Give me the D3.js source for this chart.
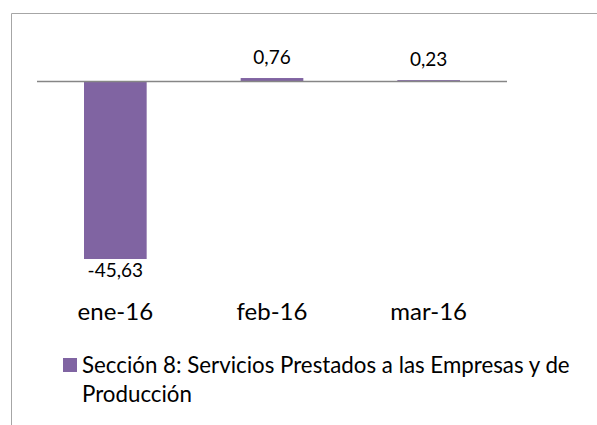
<!DOCTYPE html>
<html>
<head>
<meta charset="utf-8">
<script src="https://cdn.jsdelivr.net/npm/d3@7"></script>
<style>
  body { margin: 0; background: #fff; }
  text { font-family: Lato, "Open Sans", sans-serif; fill: #000; }
</style>
</head>
<body>
<svg id="chart" width="597" height="425"></svg>
<script>
const categories = ['ene-16', 'feb-16', 'mar-16'];
const values = [-45.63, 0.76, 0.23];
const labels = ['-45,63', '0,76', '0,23'];
const seriesName = 'Sección 8: Servicios Prestados a las Empresas y de';
const seriesName2 = 'Producción';

const svg = d3.select('#chart');
const color = '#8064a2';

// chart frame (cropped on the right and bottom)
svg.append('path')
    .attr('d', 'M11.5,425 L11.5,13.5 L597,13.5')
    .attr('fill', 'none')
    .attr('stroke', '#a6a6a6')
    .attr('stroke-width', 1);

const x = d3.scaleBand()
    .domain(categories)
    .range([37, 507])
    .paddingInner(0.6)
    .paddingOuter(0.3);

const y = d3.scaleLinear()
    .domain([-45.63, 0])
    .range([259, 81]);

svg.selectAll('.bar')
    .data(values)
    .enter()
    .append('rect')
    .attr('class', 'bar')
    .attr('x', (d, i) => x(categories[i]))
    .attr('width', x.bandwidth())
    .attr('y', d => y(Math.max(0, d)))
    .attr('height', d => Math.abs(y(d) - y(0)))
    .attr('fill', color);

// zero line
svg.append('line')
    .attr('x1', 37).attr('x2', 507)
    .attr('y1', y(0) + 0.5).attr('y2', y(0) + 0.5)
    .attr('stroke', '#868686')
    .attr('stroke-width', 1.5);

// value labels
svg.selectAll('.val')
    .data(values)
    .enter()
    .append('text')
    .attr('class', 'val')
    .attr('x', (d, i) => x(categories[i]) + x.bandwidth() / 2)
    .attr('y', d => d < 0 ? y(d) + 18 : y(d) - 14)
    .attr('text-anchor', 'middle')
    .style('font-size', '19px')
    .text((d, i) => labels[i]);

// category labels
svg.selectAll('.cat')
    .data(categories)
    .enter()
    .append('text')
    .attr('class', 'cat')
    .attr('x', d => x(d) + x.bandwidth() / 2)
    .attr('y', 320)
    .attr('text-anchor', 'middle')
    .style('font-size', '24px')
    .text(d => d);

// legend
svg.append('rect')
    .attr('x', 63).attr('y', 358)
    .attr('width', 14).attr('height', 14)
    .attr('fill', color);

svg.append('text')
    .attr('x', 82).attr('y', 373)
    .style('font-size', '22.3px')
    .text(seriesName);

svg.append('text')
    .attr('x', 82).attr('y', 402)
    .style('font-size', '22.3px')
    .text(seriesName2);
</script>
</body>
</html>
